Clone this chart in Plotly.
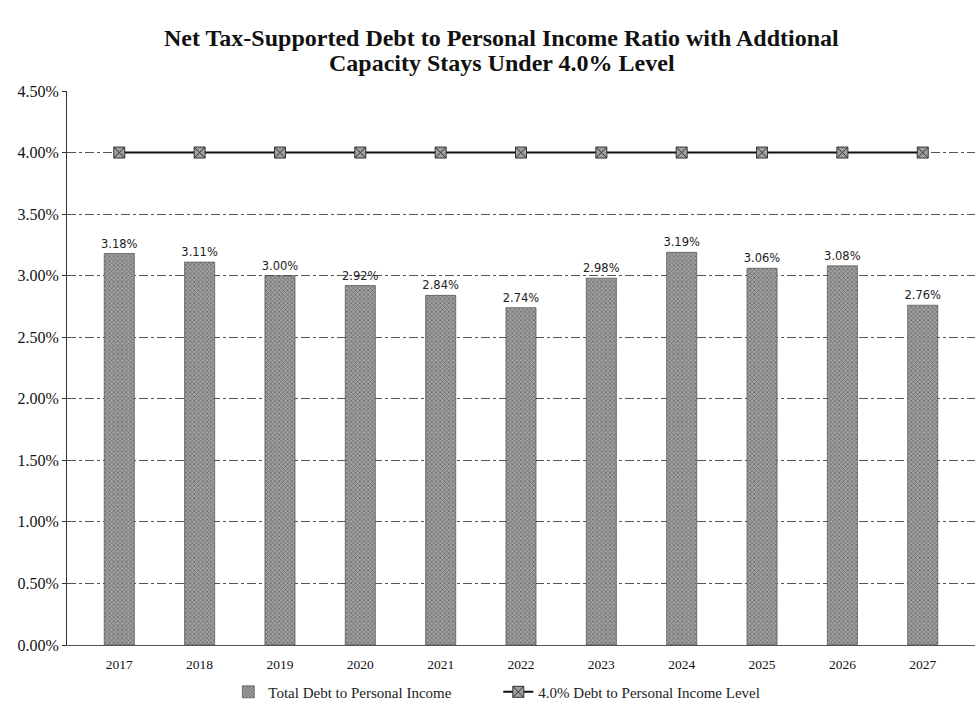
import plotly.graph_objects as go

# Fiscal years and ratio values (percent of personal income)
years = ["2017", "2018", "2019", "2020", "2021", "2022", "2023", "2024", "2025", "2026", "2027"]
debt_ratio = [3.18, 3.11, 3.00, 2.92, 2.84, 2.74, 2.98, 3.19, 3.06, 3.08, 2.76]
limit_level = [4.00] * len(years)
y_ticks = [0.0, 0.5, 1.0, 1.5, 2.0, 2.5, 3.0, 3.5, 4.0, 4.5]
title_lines = [
    "Net Tax-Supported Debt to Personal Income Ratio with Addtional",
    "Capacity Stays Under 4.0% Level",
]

serif = "Liberation Serif"
sans = "DejaVu Sans"

fig = go.Figure()

fig.add_trace(go.Bar(
    x=years,
    y=debt_ratio,
    name="Total Debt to Personal Income",
    width=0.375,
    marker=dict(
        color="#a2a2a2",
        line=dict(color="#3a3a3a", width=0.6),
        pattern=dict(shape="x", fgcolor="#363636", size=3, solidity=0.45),
    ),
    texttemplate="%{y:.2f}%",
    textposition="outside",
    constraintext="none",
    textfont=dict(family=sans, size=11.5, color="#222222"),
    cliponaxis=False,
))

fig.add_trace(go.Scatter(
    x=years,
    y=limit_level,
    name="4.0% Debt to Personal Income Level",
    mode="lines+markers",
    line=dict(color="#111111", width=2),
    marker=dict(
        symbol="square-x",
        size=11,
        color="#a0a0a0",
        line=dict(color="#333333", width=1),
    ),
))

# Two-line chart heading, centred above the plot
for text, ypos in zip(title_lines, [1.0955, 1.0505]):
    fig.add_annotation(
        text=f"<b>{text}</b>",
        xref="paper", yref="paper",
        x=0.479, y=ypos,
        xanchor="center", yanchor="middle",
        showarrow=False,
        font=dict(family=serif, size=24, color="#111111"),
    )

fig.update_layout(
    width=979,
    height=712,
    margin=dict(l=67, r=4, t=91, b=66),
    paper_bgcolor="white",
    plot_bgcolor="white",
    showlegend=True,
    legend=dict(
        orientation="h",
        x=0.475,
        xanchor="center",
        y=-0.083,
        yanchor="middle",
        font=dict(family=serif, size=15, color="#222222"),
        itemwidth=30,
        entrywidth=225,
        traceorder="normal",
    ),
    bargap=0.625,
)

fig.update_xaxes(
    type="category",
    showgrid=False,
    showline=True,
    linecolor="#555555",
    linewidth=1,
    ticks="",
    ticklabelstandoff=7,
    tickfont=dict(family=serif, size=13.5, color="#111111"),
)

fig.update_yaxes(
    range=[0, 4.5],
    tickvals=y_ticks,
    ticktext=[f"{v:.2f}%" for v in y_ticks],
    showgrid=True,
    gridcolor="#555555",
    gridwidth=1,
    griddash="dashdot",
    showline=True,
    linecolor="#333333",
    linewidth=1,
    ticks="outside",
    ticklen=4,
    tickcolor="#333333",
    tickfont=dict(family=serif, size=16, color="#111111"),
    zeroline=False,
)

fig.write_html("out.html")
